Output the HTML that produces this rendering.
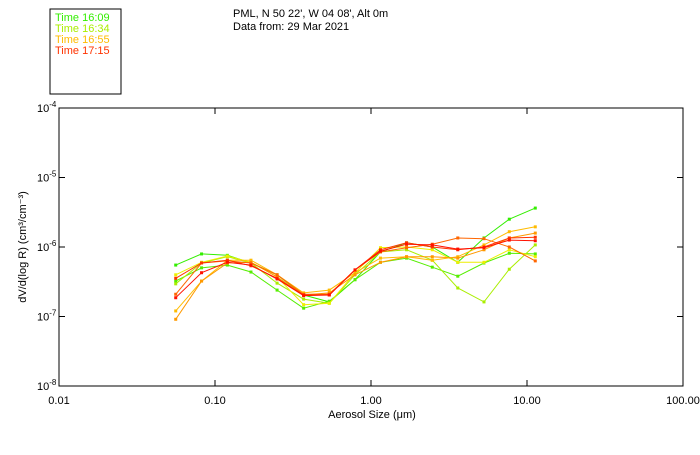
<!DOCTYPE html>
<html><head><meta charset="utf-8"><style>
body{margin:0;background:#fff;}
svg text{font-family:"Liberation Sans",sans-serif;font-size:11px;}
</style></head><body>
<svg id="chart" width="700" height="450" xmlns="http://www.w3.org/2000/svg">
<rect x="50" y="9" width="71" height="85" fill="none" stroke="#000"/>
<text x="55" y="21" fill="#33ee00">Time 16:09</text>
<text x="55" y="32" fill="#aaee00">Time 16:34</text>
<text x="55" y="43" fill="#ffbb00">Time 16:55</text>
<text x="55" y="54" fill="#ff3300">Time 17:15</text>
<text x="233" y="17">PML, N 50 22', W 04 08', Alt 0m</text>
<text x="233" y="30">Data from: 29 Mar 2021</text>
<rect x="59" y="108" width="624" height="278" fill="none" stroke="#000"/>
<text x="372" y="418" text-anchor="middle">Aerosol Size (μm)</text>
<text transform="translate(26,247) rotate(-90)" text-anchor="middle">dV/d(log R) (cm³/cm⁻³)</text>
<g id="axes"></g><g id="series"></g>
</svg>
<script>
const sizes=[0.056,0.082,0.12,0.17,0.25,0.37,0.54,0.79,1.15,1.69,2.47,3.6,5.3,7.7,11.3];
const xTicks=[0.01,0.1,1,10,100];
const xTickLabels=["0.01","0.10","1.00","10.00","100.00"];
const yTicks=[-8,-7,-6,-5,-4];
const colors=["#33ee00","#55ee00","#aaee00","#eeee00","#ffbb00","#ff9900","#ff6600","#ff3300","#ff1100"];
const s1=[-6.26,-6.10,-6.12,-6.23,-6.40,-6.69,-6.79,-6.47,-6.07,-5.94,-6.00,-6.22,-5.87,-5.60,-5.44];
const s2=[-6.49,-6.30,-6.26,-6.36,-6.62,-6.88,-6.78,-6.47,-6.22,-6.16,-6.29,-6.42,-6.23,-6.09,-6.10];
const s3=[-6.53,-6.23,-6.14,-6.23,-6.52,-6.75,-6.81,-6.40,-6.07,-6.04,-6.19,-6.59,-6.79,-6.32,-5.97];
const s4=[-6.40,-6.22,-6.13,-6.22,-6.43,-6.83,-6.81,-6.37,-6.01,-6.00,-6.04,-6.22,-6.22,-6.04,-6.14];
const s5=[-6.92,-6.49,-6.19,-6.19,-6.40,-6.66,-6.62,-6.37,-6.16,-6.14,-6.19,-6.14,-5.97,-5.78,-5.71];
const s6=[-7.04,-6.49,-6.23,-6.22,-6.43,-6.69,-6.66,-6.40,-6.22,-6.14,-6.14,-6.16,-6.04,-5.87,-5.80];
const s7=[-6.68,-6.23,-6.20,-6.23,-6.40,-6.68,-6.68,-6.33,-6.07,-6.01,-5.96,-5.87,-5.88,-6.00,-6.20];
const s8=[-6.45,-6.23,-6.19,-6.27,-6.45,-6.69,-6.69,-6.33,-6.04,-5.94,-6.00,-6.04,-6.00,-5.87,-5.86];
const s9=[-6.73,-6.37,-6.22,-6.26,-6.46,-6.70,-6.69,-6.33,-6.06,-5.96,-5.97,-6.03,-6.01,-5.90,-5.91];
const series=[s1,s2,s3,s4,s5,s6,s7,s8,s9];
const NS="http://www.w3.org/2000/svg";
const X=v=>59+(Math.log10(v)+2)*156;
const Y=e=>386-(e+8)*69.5;
function mk(t,a,p){const e=document.createElementNS(NS,t);for(const k in a)e.setAttribute(k,a[k]);p.appendChild(e);return e;}
const ax=document.getElementById('axes');
xTicks.forEach((t,i)=>{const x=X(t);
 const l1=mk('line',{x1:x,x2:x,y1:386,y2:380,stroke:'#000'},ax);
 
 
 const l2=mk('line',{x1:x,x2:x,y1:108,y2:114,stroke:'#000'},ax);
 
 
 const tx=mk('text',{x:x,y:404,'text-anchor':'middle'},ax);tx.textContent=xTickLabels[i];
 
 
});
yTicks.forEach(t=>{const y=Y(t);
 const l1=mk('line',{x1:59,x2:65,y1:y,y2:y,stroke:'#000'},ax);
 
 
 const l2=mk('line',{x1:677,x2:683,y1:y,y2:y,stroke:'#000'},ax);
 
 
 const tx=mk('text',{x:37,y:y+4},ax);
 tx.innerHTML='10<tspan dy="-5" font-size="8">'+t+'</tspan>';
 
 
});
const sg=document.getElementById('series');
series.forEach((s,i)=>{
 const g=mk('g',{},sg);
 
 
 const pts=s.map((v,j)=>X(sizes[j]).toFixed(1)+','+Y(v).toFixed(1)).join(' ');
 const pl=mk('polyline',{points:pts,fill:'none',stroke:colors[i],'stroke-width':1},g);
 
 
 s.forEach((v,j)=>{
  const r=mk('rect',{x:X(sizes[j])-1.5,y:Y(v)-1.5,width:3,height:3,fill:colors[i]},g);
  
  
 });
});
</script>
</body></html>
